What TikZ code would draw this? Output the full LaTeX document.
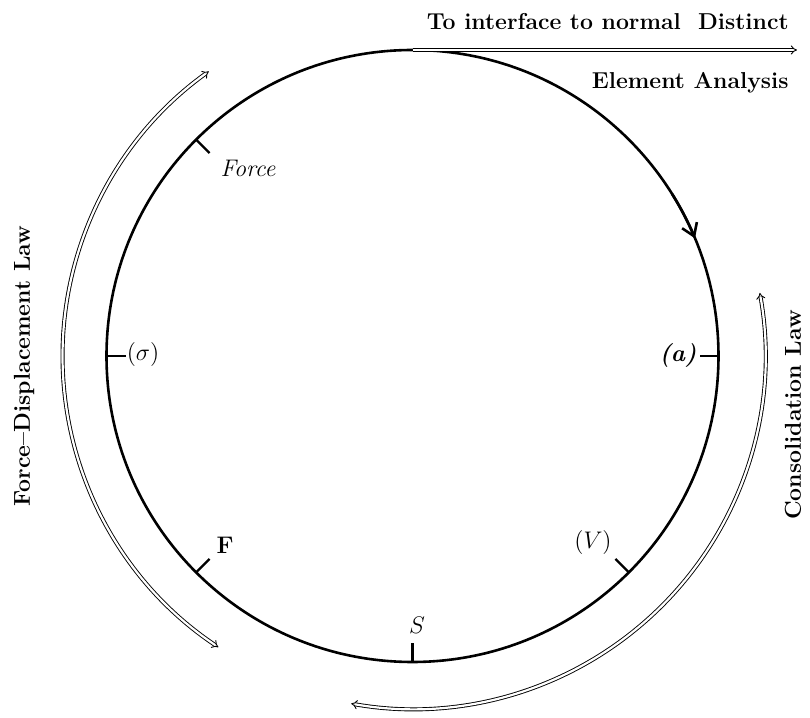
\documentclass[tikz,border=0pt]{standalone}
\usetikzlibrary{arrows.meta}
\begin{document}
\begin{tikzpicture}[x=0.5pt,y=0.5pt,
  ring/.style={line width=1.3pt},
  tickmark/.style={line width=1.1pt},
  dbl/.style={double, double distance=1.1pt, line width=0.45pt},
  head/.style={font=\fontsize{11.5}{14}\selectfont\bfseries, inner sep=0pt},
  lab/.style={font=\fontsize{12}{14}\selectfont, inner sep=0pt}]
\useasboundingbox (0,0) rectangle (810,718);
\coordinate (C) at (412.5,362);
% main ring
\draw[ring] (C) circle[radius=306];
\draw[ring, -{Straight Barb[length=6pt,width=8pt]}] ([shift={(C)}]32:306) arc[start angle=32, end angle=22.6, radius=306];
% ticks
\foreach \nm/\ang in {force/135, sig/180, ff/225, ss/270, vv/315, aa/0}{
  \coordinate (\nm o) at ([shift={(C)}]\ang:306);
  \coordinate (\nm i) at ([shift={(C)}]\ang:287);
  \draw[tickmark] (\nm o) -- (\nm i);
}
% labels
\node[lab] (lforce) at (248,550) {\itshape Force};
\node[lab] (lsig) at (143,363) {$(\sigma)$};
\node[lab] (laa) at (678,363) {\bfseries\itshape (a)};
\node[lab] (lff) at (225,173) {\bfseries F};
\node[lab] (lss) at (417,93) {$S$};
\node[lab] (lvv) at (593,175) {$(V)$};
% top outgoing arrow
\coordinate (top) at (412.5,668);
\coordinate (out) at (797,668);
\draw[dbl, -{Implies}] (top) -- (out);
\node[head, anchor=east] (t1) at (789,696) {To interface to normal\ \ Distinct};
\node[head, anchor=east] (t2) at (789,635) {Element Analysis};
% outer arcs
\coordinate (l1) at ([shift={(C)}]236.3:350);
\draw[dbl, {Implies}-{Implies}] (l1) arc[start angle=236.3, end angle=125.6, radius=350];
\coordinate (r1) at ([shift={(C)}]260:353);
\draw[dbl, {Implies}-{Implies}] (r1) arc[start angle=260, end angle=370.3, radius=353];
% side texts
\node[head, rotate=90] (fdl) at (24,352) {Force--Displacement Law};
\node[head, rotate=90] (cl) at (793,303) {Consolidation Law};
\end{tikzpicture}
\end{document}
